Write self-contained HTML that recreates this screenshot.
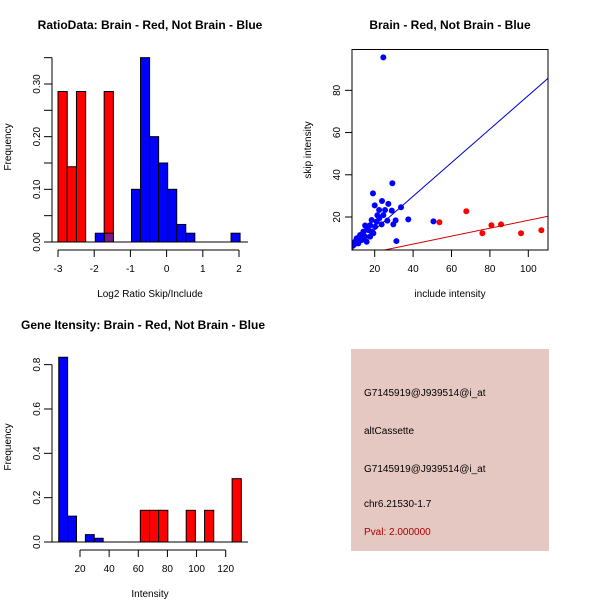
<!DOCTYPE html>
<html><head><meta charset="utf-8"><style>
html,body{margin:0;padding:0;background:#fff;}
svg{display:block;font-family:"Liberation Sans",Arial,sans-serif;}
</style></head><body>
<svg id="c" width="600" height="600" xmlns="http://www.w3.org/2000/svg">
<rect width="600" height="600" fill="#fff"/>
</svg>
<script>
// Panel 1 data: ratio histogram
const ratioRedBreaksStart = -3.0, ratioRedWidth = 0.255;
const ratioRedValues = [0.2857, 0.1429, 0.2857, 0, 0, 0.2857];
const ratioBlueBreaksStart = -1.97, ratioBlueWidth = 0.25;
const ratioBlueValues = [0.0167, 0.0167, 0, 0, 0.1, 0.35, 0.2, 0.15, 0.1, 0.0333, 0.0167, 0, 0, 0, 0, 0.0167];
const ratioXTicks = [-3, -2, -1, 0, 1, 2];
const ratioYTicks = [0, 0.10, 0.20, 0.30];
const ratioYTickLabels = ["0.00", "0.10", "0.20", "0.30"];
// Panel 2 data: scatter
const blueX = [24.5,29.2,19.1,20,23.8,27.1,22.3,28.9,33.7,37.5,50.6,31.3,30.9,26.6,29.7,22.4,23.6,15,17.6,20.2,21,16.7,14.1,18.4,12.4,15,10.6,13.2,9.8,11.5,15.8,8.9,17.6,19.3,24.5,25.4,21.4,18.4,12,14,16,10,13,11];
const blueY = [95.6,36,31.2,25.5,27.6,26.2,23.3,23,24.6,18.9,17.9,8.6,18.4,18.3,16.5,19.4,16.5,16,16.1,15.4,17.8,13.8,13.1,13.1,11.5,10.7,9.9,9.1,8.3,7.5,8.3,6.7,10.7,12.3,20.9,23.3,20.8,18.6,9,12,14,8,11,10];
const redX = [53.7,67.7,76.1,80.8,85.8,96.2,106.8];
const redY = [17.5,22.7,12.3,16.1,16.5,12.3,13.7];
const blueFit = [-1.96, 0.795];
const redFit = [-0.35, 0.188];
const scatXTicks = [20,40,60,80,100];
const scatYTicks = [20,40,60,80];
// Panel 3 data: intensity histogram
const intBlueStart = 5.4, intBlueWidth = 6.1;
const intBlueValues = [0.8333, 0.1167, 0, 0.0333, 0.0167];
const intRedStart = 61.4, intRedWidth = 6.3;
const intRedValues = [0.1429,0.1429,0.1429,0,0,0.1429,0,0.1429,0,0,0.2857];
const intXTicks = [20,40,60,80,100,120];
const intYTicks = [0,0.2,0.4,0.6,0.8];
const intYTickLabels = ["0.0","0.2","0.4","0.6","0.8"];

const svg = document.getElementById('c');
const NS = 'http://www.w3.org/2000/svg';
function mk(tag, attrs, parent) {
  const e = document.createElementNS(NS, tag);
  for (const k in attrs) e.setAttribute(k, attrs[k]);
  (parent || svg).appendChild(e);
  return e;
}
function txt(x, y, s, size, opts) {
  const t = mk('text', Object.assign({x: x, y: y, 'font-size': size, 'text-anchor': 'middle', fill: '#000'}, opts || {}));
  t.textContent = s;
  return t;
}

// ---------- Panel 1 ----------
const p1x = v => 58 + (v + 3) * 36.2;
const p1y = v => 242 - v * 526.7;
let t = txt(150, 29, 'RatioData: Brain - Red, Not Brain - Blue', 12, {'font-weight': 'bold'});


ratioRedValues.forEach((v, i) => {
  if (v <= 0) return;
  const x0 = p1x(ratioRedBreaksStart + i * ratioRedWidth), x1 = p1x(ratioRedBreaksStart + (i + 1) * ratioRedWidth);
  const r = mk('rect', {x: x0, y: p1y(v), width: x1 - x0, height: p1y(0) - p1y(v), fill: '#ff0000', stroke: '#000', 'stroke-width': 1});
  
  
});
ratioBlueValues.forEach((v, i) => {
  if (v <= 0) return;
  const b0 = ratioBlueBreaksStart + i * ratioBlueWidth, b1 = b0 + ratioBlueWidth;
  let overlapped = false;
  ratioRedValues.forEach((rv, j) => {
    if (rv <= 0) return;
    const r0 = ratioRedBreaksStart + j * ratioRedWidth, r1 = r0 + ratioRedWidth;
    const lo = Math.max(b0, r0), hi = Math.min(b1, r1);
    if (hi - lo > ratioBlueWidth * 0.5) overlapped = true;
  });
  const x0 = p1x(b0), x1 = p1x(b1);
  const r = mk('rect', {x: x0, y: p1y(v), width: x1 - x0, height: p1y(0) - p1y(v), fill: overlapped ? '#7a1a8a' : '#0000ff', stroke: '#000', 'stroke-width': 1});
  
  
});
mk('line', {x1: 52, x2: 248, y1: 242, y2: 242, stroke: '#000'});
mk('line', {x1: 52, x2: 52, y1: p1y(0), y2: p1y(0.35), stroke: '#000'});
for (let v = 0; v <= 0.351; v += 0.05) mk('line', {x1: 44, x2: 52, y1: p1y(v), y2: p1y(v), stroke: '#000'});
ratioYTicks.forEach((v, i) => {
  const l = txt(0, 0, ratioYTickLabels[i], 10, {transform: `translate(40,${p1y(v)}) rotate(-90)`});
  
  
});
mk('line', {x1: p1x(-3), x2: p1x(2), y1: 250, y2: 250, stroke: '#000'});
ratioXTicks.forEach(v => {
  mk('line', {x1: p1x(v), x2: p1x(v), y1: 250, y2: 257, stroke: '#000'});
  const l = txt(p1x(v), 272, String(v), 10);
  
  
});
t = txt(150, 297, 'Log2 Ratio Skip/Include', 10);


t = txt(0, 0, 'Frequency', 10, {transform: 'translate(11,147) rotate(-90)'});



// ---------- Panel 2 ----------
const p2x = v => 374.7 + (v - 20) * 1.92;
const p2y = v => 217 - (v - 20) * 2.111;
t = txt(450, 29, 'Brain - Red, Not Brain - Blue', 12, {'font-weight': 'bold'});


const clip = mk('clipPath', {id: 'cp2'});
mk('rect', {x: 352, y: 49, width: 196, height: 201}, clip);
const g2 = mk('g', {'clip-path': 'url(#cp2)'});
blueX.forEach((x, i) => {
  const c = mk('circle', {cx: p2x(x), cy: p2y(blueY[i]), r: 3, fill: '#0000ff'}, g2);
  
  
});
redX.forEach((x, i) => {
  const c = mk('circle', {cx: p2x(x), cy: p2y(redY[i]), r: 3, fill: '#ff0000'}, g2);
  
  
});
let ln = mk('line', {x1: p2x(0), y1: p2y(blueFit[0]), x2: p2x(120), y2: p2y(blueFit[0] + blueFit[1] * 120), stroke: '#0000cc', 'stroke-width': 1}, g2);


ln = mk('line', {x1: p2x(0), y1: p2y(redFit[0]), x2: p2x(120), y2: p2y(redFit[0] + redFit[1] * 120), stroke: '#cc0000', 'stroke-width': 1}, g2);


mk('rect', {x: 352, y: 49.5, width: 196, height: 200.5, fill: 'none', stroke: '#000'});
scatXTicks.forEach(v => {
  mk('line', {x1: p2x(v), x2: p2x(v), y1: 250, y2: 257, stroke: '#000'});
  const l = txt(p2x(v), 272, String(v), 10);
  
  
});
scatYTicks.forEach(v => {
  mk('line', {x1: 345, x2: 352, y1: p2y(v), y2: p2y(v), stroke: '#000'});
  const l = txt(0, 0, String(v), 10, {transform: `translate(340,${p2y(v)}) rotate(-90)`});
  
  
});
t = txt(450, 297, 'include intensity', 10);


t = txt(0, 0, 'skip intensity', 10, {transform: 'translate(311,150) rotate(-90)'});



// ---------- Panel 3 ----------
const p3x = v => 80 + (v - 20) * 1.457;
const p3y = v => 542 - v * 221.7;
t = txt(143, 329, 'Gene Itensity: Brain - Red, Not Brain - Blue', 12, {'font-weight': 'bold'});


intBlueValues.forEach((v, i) => {
  if (v <= 0) return;
  const x0 = p3x(intBlueStart + i * intBlueWidth), x1 = p3x(intBlueStart + (i + 1) * intBlueWidth);
  const r = mk('rect', {x: x0, y: p3y(v), width: x1 - x0, height: p3y(0) - p3y(v), fill: '#0000ff', stroke: '#000'});
  
  
});
intRedValues.forEach((v, i) => {
  if (v <= 0) return;
  const x0 = p3x(intRedStart + i * intRedWidth), x1 = p3x(intRedStart + (i + 1) * intRedWidth);
  const r = mk('rect', {x: x0, y: p3y(v), width: x1 - x0, height: p3y(0) - p3y(v), fill: '#ff0000', stroke: '#000'});
  
  
});
mk('line', {x1: 52, x2: 248, y1: 542, y2: 542, stroke: '#000'});
mk('line', {x1: 52, x2: 52, y1: p3y(0), y2: p3y(0.8), stroke: '#000'});
intYTicks.forEach((v, i) => {
  mk('line', {x1: 44, x2: 52, y1: p3y(v), y2: p3y(v), stroke: '#000'});
  const l = txt(0, 0, intYTickLabels[i], 10, {transform: `translate(40,${p3y(v)}) rotate(-90)`});
  
  
});
mk('line', {x1: p3x(20), x2: p3x(120), y1: 550, y2: 550, stroke: '#000'});
intXTicks.forEach(v => {
  mk('line', {x1: p3x(v), x2: p3x(v), y1: 550, y2: 557, stroke: '#000'});
  const l = txt(p3x(v), 572, String(v), 10);
  
  
});
t = txt(150, 597, 'Intensity', 10);


t = txt(0, 0, 'Frequency', 10, {transform: 'translate(11,447) rotate(-90)'});



// ---------- Panel 4 ----------
const box = mk('rect', {x: 351, y: 349, width: 198, height: 202, fill: '#e6c8c2'});


const infoLines = ['G7145919@J939514@i_at', 'altCassette', 'G7145919@J939514@i_at', 'chr6.21530-1.7', 'Pval: 2.000000'];
const infoY = [396, 434, 472, 507, 535];
infoLines.forEach((s, i) => {
  const l = txt(364, infoY[i], s, 10, {'text-anchor': 'start', fill: i === 4 ? '#aa0000' : '#000'});
  
  
});
</script>
</body></html>
